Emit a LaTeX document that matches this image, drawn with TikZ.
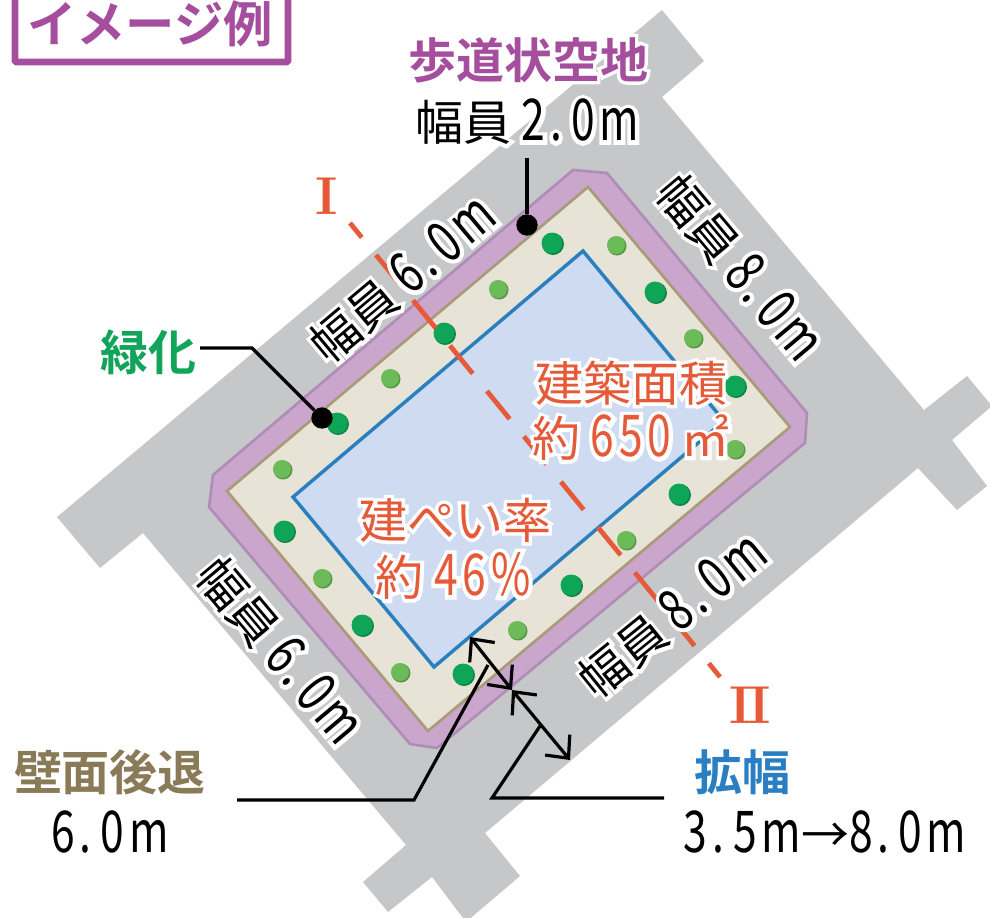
\documentclass[tikz,border=0pt]{standalone}
\usepackage{fontspec}
\usepackage{xcolor}
\usetikzlibrary{arrows.meta}
\newfontfamily\jpfont{Noto Sans CJK JP}
\newfontfamily\jphalo{Noto Sans CJK JP}[FakeBold=14]
\newfontfamily\jpbold{Noto Sans CJK JP Bold}
\newfontfamily\jpboldhalo{Noto Sans CJK JP Bold}[FakeBold=14]
\newfontfamily\numfont{Noto Sans CJK JP}[FakeStretch=0.74,Scale=1.2,LetterSpace=8]
\newfontfamily\numhalo{Noto Sans CJK JP}[FakeStretch=0.74,Scale=1.2,LetterSpace=8,FakeBold=14]
\newcommand{\dig}[1]{{\numfont #1}}
\newcommand{\pt}{.\kern7pt }
\newcommand{\withhalo}[1]{\makebox[0pt][l]{\color{white}\let\jpfont\jphalo\let\jpbold\jpboldhalo\let\numfont\numhalo #1}#1}
\definecolor{roadgray}{HTML}{C6C7C9}
\definecolor{walkpurple}{HTML}{CBA6CC}
\definecolor{walkedge}{HTML}{AF8DB8}
\definecolor{setbackfill}{HTML}{E8E3D7}
\definecolor{setbackedge}{HTML}{A89C78}
\definecolor{buildfill}{HTML}{CFDBF1}
\definecolor{buildedge}{HTML}{2A80BE}
\definecolor{treedark}{HTML}{0FA556}
\definecolor{treelight}{HTML}{6BBC58}
\definecolor{titlepurple}{HTML}{A64E9E}
\definecolor{redorange}{HTML}{E55A38}
\definecolor{setbacktan}{HTML}{8A7B58}
\definecolor{widenblue}{HTML}{2A7FC2}
\definecolor{treegreen}{HTML}{13A45C}
\begin{document}
\begin{tikzpicture}[x=0.75pt,y=-0.75pt,
            txt/.style={inner sep=0pt,font=\fontsize{36}{40}\selectfont\jpfont},
            bold/.style={inner sep=0pt,font=\fontsize{36}{40}\selectfont\jpbold},
            numeral/.style={inner sep=0pt,text=redorange,font=\fontsize{40}{44}\selectfont\rmfamily\bfseries},
            leader/.style={line width=2.4pt,black},
            measure/.style={line width=2.4pt,black,{Straight Barb[length=13pt,width=24pt]}-{Straight Barb[length=13pt,width=24pt]}},
            pin/.style={shape=circle,fill=black,inner sep=0pt,minimum size=16pt}]
	\clip (0,0) rectangle (990,918);
	% road
	\fill[roadgray] (662,10) -- (704,61) -- (662,97) -- (924,410) -- (967,376) -- (992,406) -- (952,440)
		-- (987,486) -- (957,510) -- (918,468) -- (485,833) -- (520,876) -- (466,922) -- (432,877)
		-- (388,912) -- (363,882) -- (406,845) -- (143,533) -- (100,568) -- (57,517) -- cycle;
	% site
	\draw[walkedge,fill=walkpurple,line width=2pt] (573,170) -- (607,173) -- (807,413) -- (805,443)
		-- (437,748) -- (410,744) -- (209,507) -- (213,475) -- cycle;
	\draw[setbackedge,fill=setbackfill,line width=2pt] (588,187) -- (790,427) -- (428,731) -- (227,491) -- cycle;
	\draw[buildedge,fill=buildfill,line width=2.6pt] (583,251) -- (724,421) -- (434,667) -- (293,497) -- cycle;
	% trees
	\foreach \x/\y in {552/243,655/292,735/386,679/494,571/585,463/674,362/625,284/531,337/423,444/333}{
		\fill[treedark!80!black] (\x+1,\y+1) circle (11);
		\fill[treedark] (\x,\y) circle (10.5);
	}
	\foreach \x/\y in {616/245,693/338,735/449,626/540,517/630,400/672,322/578,282/469,390/378,498/289}{
		\fill[treelight!80!black] (\x+1,\y+1) circle (9.5);
		\fill[treelight] (\x,\y) circle (9);
	}
	% section line
	\coordinate (secA) at (350,223);
	\coordinate (secB) at (720,677);
	\draw[redorange,line width=3.6pt,dash pattern=on 27pt off 16.9pt,dash phase=13pt] (secA) -- (secB);
	% title
	\draw[titlepurple,line width=5pt,rounded corners=1pt] (15,-10) rectangle (288,62);
	\node[bold,text=titlepurple] (title) at (150,24) {\fontsize{37}{40}\selectfont イメージ例};
	% labels along the roads
	\node[txt,rotate=40] (roadNW) at (402,279) {\withhalo{\jpfont 幅員 \dig{6\pt 0m}}};
	\node[txt,rotate=-50] (roadNE) at (740,267) {\withhalo{\jpfont 幅員 \dig{8\pt 0m}}};
	\node[txt,rotate=-50] (roadSW) at (280,650) {\withhalo{\jpfont 幅員 \dig{6\pt 0m}}};
	\node[txt,rotate=39] (roadSE) at (672,615) {\withhalo{\jpfont 幅員 \dig{8\pt 0m}}};
	% figures inside
	\node[txt,text=redorange] (areaA) at (631,383) {\withhalo{\jpfont 建築面積}};
	\node[txt,text=redorange] (areaB) at (631,438) {\withhalo{\jpfont 約 \dig{650} ㎡}};
	\node[txt,text=redorange] (ratioA) at (455,520) {\withhalo{\jpfont 建ぺい率}};
	\node[txt,text=redorange] (ratioB) at (453,576) {\withhalo{\jpfont 約 \dig{46\%}}};
	\node[numeral] (secI) at (327,196) {I};
	\node[numeral] (secII) at (750,705) {I\kern-3pt I};
	% leaders
	\node[pin] (pinWalk) at (527,225) {};
	\coordinate (walkTop) at (527,158);
	\draw[leader] (walkTop) -- (pinWalk);
	\node[pin] (pinTree) at (322,418) {};
	\coordinate (treeA) at (200,348);
	\coordinate (treeB) at (252,348);
	\draw[leader] (treeA) -- (treeB) -- (pinTree);
	\coordinate (edgeBuild) at (470,637);
	\coordinate (edgeOld) at (512,690);
	\coordinate (edgeNew) at (570,760);
	\draw[measure] (edgeBuild) -- (edgeOld);
	\draw[measure] (edgeOld) -- (edgeNew);
	\coordinate (backA) at (237,800);
	\coordinate (backB) at (414,800);
	\coordinate (backC) at (488,665);
	\draw[leader] (backA) -- (backB) -- (backC);
	\coordinate (widenA) at (664,798);
	\coordinate (widenB) at (492,798);
	\coordinate (widenC) at (540,726);
	\draw[leader] (widenA) -- (widenB) -- (widenC);
	% headings
	\node[bold,text=titlepurple] (walkHead) at (528,60) {\withhalo{\jpbold 歩道状空地}};
	\node[txt] (walkWidth) at (527,122) {\withhalo{\jpfont 幅員 \dig{2\pt 0m}}};
	\node[bold,text=treegreen] (treeHead) at (148,352) {\jpbold 緑化};
	\node[bold,text=setbacktan] (backHead) at (110,772) {\jpbold 壁面後退};
	\node[txt] (backWidth) at (110,832) {\dig{6\pt 0m}};
	\node[bold,text=widenblue] (widenHead) at (742,772) {\jpbold 拡幅};
	\node[txt] (widenWidth) at (825,832) {\dig{3\pt 5m}\jpfont→\dig{8\pt 0m}};
\end{tikzpicture}
\end{document}
